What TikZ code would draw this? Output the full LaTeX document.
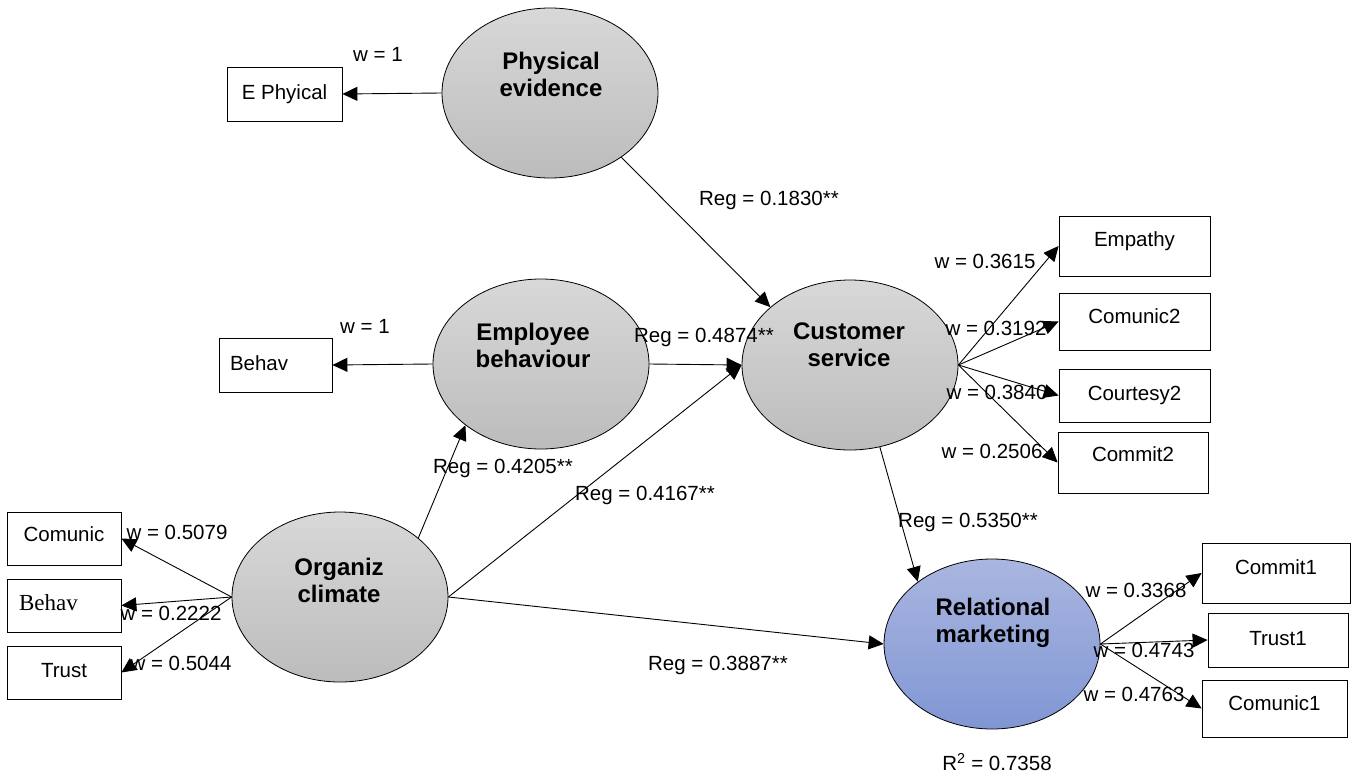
\documentclass[tikz,border=0pt]{standalone}
\usepackage{fontspec}
\setmainfont{Liberation Sans}
\newfontfamily\timesfont{Liberation Serif}
\usetikzlibrary{arrows.meta,shapes.geometric}
\definecolor{graytop}{RGB}{216,216,216}
\definecolor{graybot}{RGB}{188,188,188}
\definecolor{bluetop}{RGB}{170,182,224}
\definecolor{bluebot}{RGB}{128,150,212}
\begin{document}
\begin{tikzpicture}[x=1pt,y=-1pt,
  lat/.style={ellipse, draw, line width=0.8pt, minimum width=216pt, minimum height=170pt, inner sep=0pt, top color=graytop, bottom color=graybot},
  latblue/.style={lat, top color=bluetop, bottom color=bluebot},
  lattext/.style={align=center, inner sep=0pt, font=\fontsize{24}{27}\selectfont\bfseries},
  box/.style={draw, line width=0.8pt, fill=white, inner sep=0pt, text height=15pt, font=\fontsize{20.5}{24}\selectfont},
  tdep/.style={text depth=#1},
  lab/.style={inner sep=0pt, font=\fontsize{20.5}{24}\selectfont},
  arr/.style={-{Triangle[length=15pt,width=14pt]}, line width=0.9pt}
]
\fill[white] (0,0) rectangle (1359,776);
\useasboundingbox (0,0) rectangle (1359,776);

% latent variables
\node[lat] (pe) at (550,93) {};
\node[lat] (eb) at (541,364) {};
\node[lat] (cs) at (850,365) {};
\node[lat] (oc) at (340,597) {};
\node[latblue] (rm) at (992,644) {};
\node[lattext] (pet) at (551,74) {Physical\\evidence};
\node[lattext] (ebt) at (533,345) {Employee\\behaviour};
\node[lattext] (cst) at (849,345) {Customer\\service};
\node[lattext] (oct) at (339,580) {Organiz\\climate};
\node[lattext] (rmt) at (993,623) {Relational\\marketing};

% indicators
\node[box, tdep=4pt, minimum width=115pt, minimum height=54pt] (ephy) at (284.5,94) {E Phyical};
\node[box, tdep=4pt, minimum width=113pt, minimum height=54pt, inner xsep=11pt, text width=91pt, align=left] (behavA) at (275.5,365) {Behav};
\node[box, tdep=9pt, minimum width=114pt, minimum height=53pt] (comunic) at (64,538.5) {Comunic};
\node[box, tdep=5pt, minimum width=114pt, minimum height=53pt, inner xsep=12pt, text width=90pt, align=left, font=\fontsize{23}{26}\selectfont\timesfont] (behavB) at (64,605.5) {Behav};
\node[box, tdep=5pt, minimum width=114pt, minimum height=53pt] (trust) at (64,672.5) {Trust};
\node[box, tdep=14pt, minimum width=151pt, minimum height=60pt] (empathy) at (1134.5,246) {Empathy};
\node[box, tdep=11pt, minimum width=151pt, minimum height=57pt] (comunic2) at (1134.5,321.5) {Comunic2};
\node[box, tdep=5pt, minimum width=151pt, minimum height=53pt] (courtesy2) at (1134.5,395.5) {Courtesy2};
\node[box, tdep=17pt, minimum width=150pt, minimum height=61pt] (commit2) at (1133,462.5) {Commit2};
\node[box, tdep=12pt, minimum width=148pt, minimum height=60pt] (commit1) at (1276,573) {Commit1};
\node[box, tdep=4pt, minimum width=140pt, minimum height=54pt] (trust1) at (1278,640) {Trust1};
\node[box, tdep=11pt, minimum width=145pt, minimum height=57pt] (comunic1) at (1274.5,708.5) {Comunic1};

% connectors
\draw[arr] (pe.west) -- (ephy.east);
\draw[arr] (eb.west) -- (behavA.east);
\draw[arr] (pe.-42) -- (cs.144.5);
\draw[arr] (eb.east) -- (cs.west);
\draw[arr] (oc.37.3) -- (eb.219.6);
\draw[arr] (oc.east) -- (cs.west);
\draw[arr] (oc.east) -- (rm.west);
\draw[arr] (cs.-70.7) -- (rm.140.4);
\draw[arr] (oc.west) -- (comunic.east);
\draw[arr] (oc.west) -- (behavB.east);
\draw[arr] (oc.west) -- (trust.east);
\draw[arr] (cs.east) -- (empathy.west);
\draw[arr] (cs.east) -- (comunic2.west);
\draw[arr] (cs.east) -- (courtesy2.west);
\draw[arr] (cs.east) -- (commit2.west);
\draw[arr] (rm.east) -- (commit1.west);
\draw[arr] (rm.east) -- (trust1.west);
\draw[arr] (rm.east) -- (comunic1.west);

% labels
\node[lab] (l1) at (378,54) {w = 1};
\node[lab] (l2) at (365,326) {w = 1};
\node[lab] (l3) at (769,200) {Reg = 0.1830**};
\node[lab] (l4) at (704,337) {Reg = 0.4874**};
\node[lab] (l5) at (503,468) {Reg = 0.4205**};
\node[lab] (l6) at (645,495) {Reg = 0.4167**};
\node[lab] (l7) at (968,522) {Reg = 0.5350**};
\node[lab] (l8) at (718,665) {Reg = 0.3887**};
\node[lab] (l9) at (985,261) {w = 0.3615};
\node[lab] (l10) at (996,328) {w = 0.3192};
\node[lab] (l11) at (997,392) {w = 0.3840};
\node[lab] (l12) at (992,451) {w = 0.2506};
\node[lab] (l13) at (177,532) {w = 0.5079};
\node[lab] (l14) at (171,613) {w = 0.2222};
\node[lab] (l15) at (181,663) {w = 0.5044};
\node[lab] (l16) at (1136,590) {w = 0.3368};
\node[lab] (l17) at (1144,650) {w = 0.4743};
\node[lab] (l18) at (1134,694) {w = 0.4763};
\node[lab] (l19) at (997,762) {R\textsuperscript{2} = 0.7358};
\end{tikzpicture}
\end{document}
